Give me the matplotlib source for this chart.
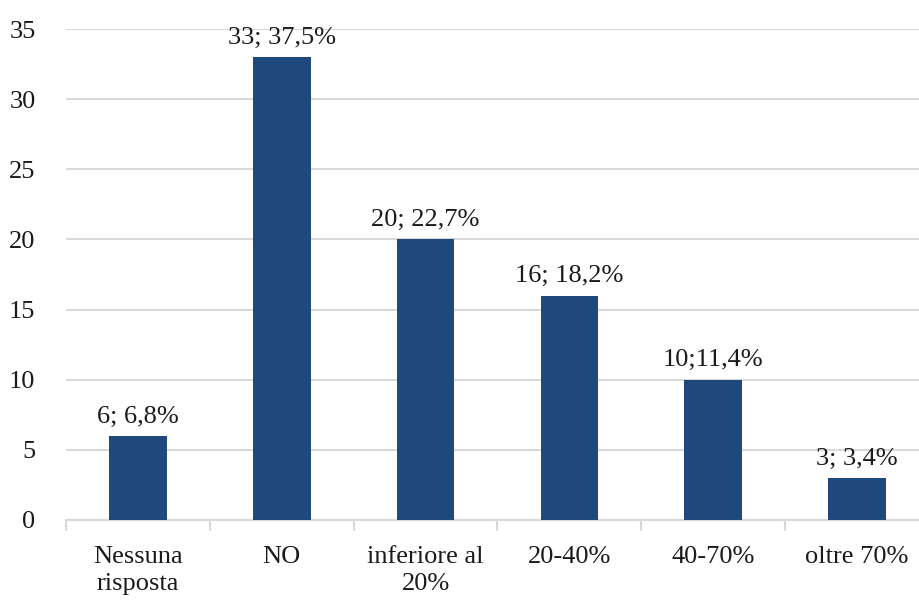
import matplotlib.pyplot as plt
import numpy as np

categories = ["Nessuna\nrisposta", "NO", "inferiore al\n20%", "20-40%", "40-70%", "oltre 70%"]
counts = [6, 33, 20, 16, 10, 3]
labels = ["6; 6,8%", "33; 37,5%", "20; 22,7%", "16; 18,2%", "10;11,4%", "3; 3,4%"]

plt.rcParams['font.family'] = ['Liberation Serif', 'DejaVu Serif']

fig = plt.figure(figsize=(9.2, 6.04), dpi=100)
ax = fig.add_axes([66 / 920, 84 / 604, 863 / 920, 491 / 604])

x = np.arange(len(categories))
bars = ax.bar(x, counts, width=0.4, color="#1F497D", zorder=3)

for b, lab in zip(bars, labels):
    ax.annotate(lab, (b.get_x() + b.get_width() / 2, b.get_height()),
                xytext=(0, 6), textcoords="offset points",
                ha="center", va="bottom", fontsize=19, color="#1a1a1a")

ax.set_xlim(-0.5, len(categories) - 0.5)
ax.set_ylim(0, 35)
ax.set_yticks(range(0, 36, 5))
ax.yaxis.grid(True, color="#D9D9D9", linewidth=1.5, zorder=0)
ax.tick_params(axis="y", length=0, labelsize=19, pad=22, labelcolor="#1a1a1a")

ax.set_xticks(x)
ax.set_xticklabels(categories, fontsize=19, color="#1a1a1a", linespacing=1.3)
ax.tick_params(axis="x", which="major", length=0, pad=19)
ax.set_xticks(np.arange(-0.5, len(categories), 1), minor=True)
ax.tick_params(axis="x", which="minor", length=8, color="#D9D9D9", width=1.5)

for s in ["top", "right", "left"]:
    ax.spines[s].set_visible(False)
ax.spines["bottom"].set_color("#D9D9D9")
ax.spines["bottom"].set_linewidth(1.5)

fig.savefig("out.png", dpi=100)
